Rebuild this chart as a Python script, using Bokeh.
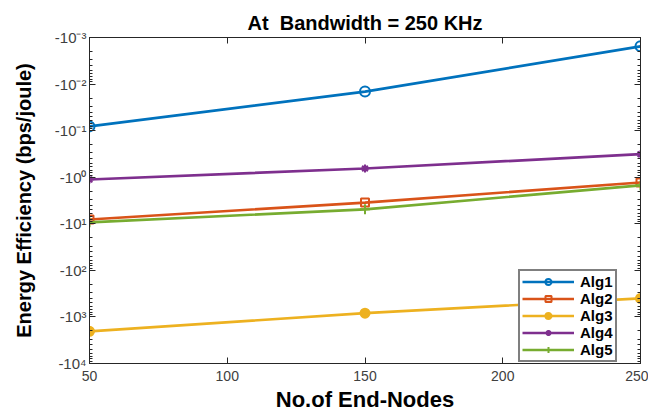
import numpy as np
from bokeh.plotting import figure
from bokeh.models import Range1d, FixedTicker, LinearAxis, Legend, LegendItem
from bokeh.embed import file_html
from bokeh.resources import INLINE

# ---- data (values are negative; y axis is a reversed log axis of |value|) ----
nodes = [50, 150, 250]
alg1 = [-0.081, -0.0145, -0.00155]
alg2 = [-8.1, -3.5, -1.3]
alg3 = [-2040.0, -830.0, -400.0]
alg4 = [-1.12, -0.65, -0.32]
alg5 = [-9.3, -4.9, -1.5]
series_names = ["Alg1", "Alg2", "Alg3", "Alg4", "Alg5"]
x_ticks = [50, 100, 150, 200, 250]
y_ticks = [-3, -2, -1, 0, 1, 2, 3, 4]
y_tick_labels = ["-10⁻³", "-10⁻²", "-10⁻¹", "-10⁰", "-10¹", "-10²", "-10³", "-10⁴"]

colors = ["#0072BD", "#D95319", "#EDB120", "#7E2F8E", "#77AC30"]
FONT = "Liberation Sans"
AX = "#262626"
TICKTXT = "#404040"


def mag(v):
    return [float(np.log10(-x)) for x in v]


p = figure(frame_width=551, frame_height=326, output_backend="svg", toolbar_location=None,
           x_range=Range1d(50, 250), y_range=Range1d(4, -3),
           min_border_left=89, min_border_right=8, min_border_top=37,
           min_border_bottom=40, title="At\u00a0 Bandwidth = 250 KHz")
p.title.align = "center"
p.title.text_font = FONT
p.title.text_font_size = "20px"
p.title.text_font_style = "bold"
p.title.text_color = "black"
p.title.standoff = 7

p.xgrid.visible = False
p.ygrid.visible = False
p.outline_line_color = AX
p.outline_line_width = 1
p.background_fill_color = "white"
p.border_fill_color = "white"

minor = [k + float(np.log10(m)) for k in range(-3, 4) for m in range(2, 10)]
yticker = FixedTicker(ticks=y_ticks, minor_ticks=minor)
xticker = FixedTicker(ticks=x_ticks)
overrides = {float(t): l for t, l in zip(y_ticks, y_tick_labels)}


def style(ax, labels=True):
    ax.axis_line_color = AX
    ax.major_tick_line_color = AX
    ax.minor_tick_line_color = AX
    ax.major_tick_in = 6
    ax.major_tick_out = 0
    ax.minor_tick_in = 3
    ax.minor_tick_out = 0
    ax.major_label_text_font = FONT
    ax.major_label_text_color = TICKTXT
    ax.major_label_text_font_size = "14px"
    if not labels:
        ax.major_label_text_font_size = "1px"
        ax.major_label_standoff = 0


p.xaxis.ticker = xticker
p.yaxis.ticker = yticker
p.yaxis.major_label_overrides = overrides
style(p.xaxis[0])
style(p.yaxis[0])
p.yaxis.major_label_text_font_size = "15px"
p.xaxis.minor_tick_in = 0
p.xaxis.major_label_standoff = 7
p.yaxis.major_label_standoff = 3

p.xaxis.axis_label = "No.of End-Nodes"
p.yaxis.axis_label = "Energy Efficiency (bps/joule)"
for ax in (p.xaxis[0], p.yaxis[0]):
    ax.axis_label_text_font = FONT
    ax.axis_label_text_font_style = "bold"
    ax.axis_label_text_color = "black"
p.xaxis.axis_label_text_font_size = "22px"
p.yaxis.axis_label_text_font_size = "20px"
p.xaxis.axis_label_standoff = 3
p.yaxis.axis_label_standoff = 17

right = LinearAxis(ticker=yticker)
style(right, labels=False)
right.major_label_overrides = {float(t): "" for t in y_ticks}
p.add_layout(right, "right")
top = LinearAxis(ticker=xticker)
style(top, labels=False)
top.minor_tick_in = 0
top.major_label_overrides = {float(t): "" for t in x_ticks}
p.add_layout(top, "above")

all_series = [alg1, alg2, alg3, alg4, alg5]
markers = [
    dict(marker="circle", size=10, fill_alpha=0),
    dict(marker="square", size=8, fill_alpha=0),
    dict(marker="circle", size=9, fill_alpha=1),
    dict(marker="asterisk", size=8, fill_alpha=1),
    dict(marker="cross", size=10, fill_alpha=1),
]
items = []
for name, vals, c, mk in zip(series_names, all_series, colors, markers):
    ys = mag(vals)
    lr = p.line(nodes, ys, line_color=c, line_width=2.7)
    sr = p.scatter(nodes, ys, marker=mk["marker"], size=mk["size"], line_color=c,
                   fill_color=c, fill_alpha=mk["fill_alpha"], line_width=2)
    items.append(LegendItem(label=name, renderers=[lr, sr]))

legend = Legend(items=items, location=(429, 1))
legend.border_line_color = "black"
legend.border_line_width = 2
legend.label_text_font = FONT
legend.label_text_font_style = "bold"
legend.label_text_font_size = "15px"
legend.label_text_color = "black"
legend.glyph_width = 52
legend.glyph_height = 15
legend.label_height = 15
legend.spacing = 0
legend.padding = 2
legend.margin = 0
legend.label_standoff = 6
legend.background_fill_color = "white"
legend.background_fill_alpha = 1
p.add_layout(legend)

with open("out.html", "w") as f:
    f.write(file_html(p, INLINE))
